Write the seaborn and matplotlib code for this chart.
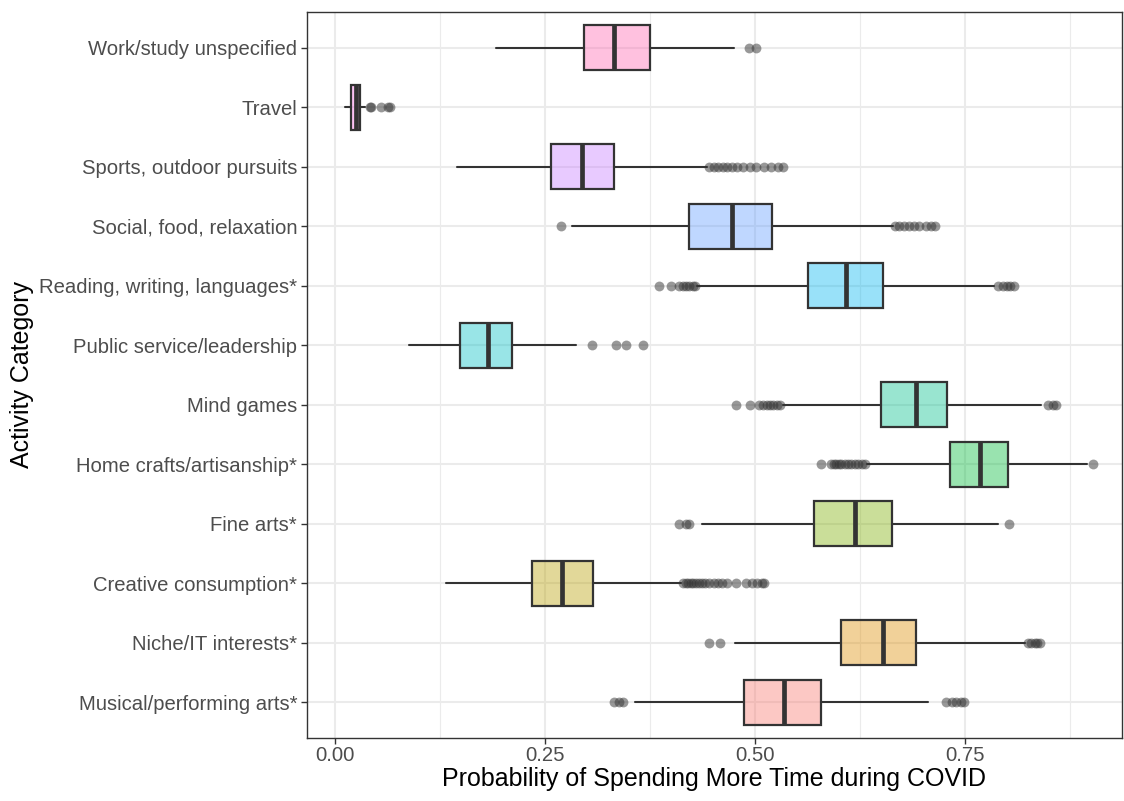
import numpy as np
import pandas as pd
import matplotlib
matplotlib.use("Agg")
import matplotlib.pyplot as plt
from matplotlib.colors import to_rgba
import seaborn as sns

# categories in factor order (first one sits at the bottom)
categories = ["Musical/performing arts*", "Niche/IT interests*", "Creative consumption*",
              "Fine arts*", "Home crafts/artisanship*", "Mind games",
              "Public service/leadership", "Reading, writing, languages*",
              "Social, food, relaxation", "Sports, outdoor pursuits", "Travel",
              "Work/study unspecified"]

# ggplot default hue palette for 12 levels
colors = ["#F8766D", "#DE8C00", "#B79F00", "#7CAE00", "#00BA38", "#00C08B",
          "#00BFC4", "#00B4F0", "#619CFF", "#C77CFF", "#F564E3", "#FF64B0"]

whisk_lo = [0.357, 0.476, 0.133, 0.437, 0.633, 0.533, 0.089, 0.431, 0.282, 0.145, 0.012, 0.192]
q1 = [0.487, 0.603, 0.235, 0.570, 0.732, 0.650, 0.149, 0.563, 0.422, 0.257, 0.020, 0.297]
med = [0.535, 0.653, 0.271, 0.619, 0.768, 0.692, 0.182, 0.609, 0.473, 0.294, 0.025, 0.333]
q3 = [0.579, 0.692, 0.307, 0.663, 0.801, 0.729, 0.211, 0.652, 0.520, 0.333, 0.030, 0.375]
whisk_hi = [0.706, 0.822, 0.412, 0.790, 0.895, 0.841, 0.287, 0.785, 0.664, 0.443, 0.036, 0.475]

outliers = [
    [0.332, 0.338, 0.343, 0.728, 0.735, 0.740, 0.745, 0.749],
    [0.446, 0.459, 0.825, 0.829, 0.833, 0.836, 0.840],
    [0.415, 0.418, 0.421, 0.424, 0.427, 0.430, 0.433, 0.437, 0.441, 0.446, 0.451, 0.456,
     0.461, 0.467, 0.478, 0.489, 0.497, 0.503, 0.508, 0.511],
    [0.410, 0.418, 0.422, 0.803],
    [0.579, 0.591, 0.594, 0.597, 0.600, 0.603, 0.607, 0.611, 0.615, 0.619, 0.623, 0.627,
     0.631, 0.902],
    [0.478, 0.494, 0.505, 0.510, 0.514, 0.518, 0.522, 0.526, 0.530, 0.849, 0.855, 0.859],
    [0.306, 0.335, 0.347, 0.367],
    [0.386, 0.400, 0.410, 0.414, 0.418, 0.422, 0.426, 0.429, 0.789, 0.795, 0.800, 0.804, 0.809],
    [0.269, 0.667, 0.672, 0.677, 0.683, 0.689, 0.696, 0.704, 0.710, 0.714],
    [0.446, 0.451, 0.456, 0.462, 0.467, 0.473, 0.479, 0.486, 0.494, 0.502, 0.511, 0.519,
     0.528, 0.533],
    [0.042, 0.043, 0.055, 0.0635, 0.066],
    [0.493, 0.501],
]

sns.set_theme(style="whitegrid")
plt.rcParams['font.family'] = ['Liberation Sans', 'DejaVu Sans']

fig, ax = plt.subplots(figsize=(11.24, 8.01), dpi=100)
fig.subplots_adjust(left=0.2731, right=0.9982, top=0.985, bottom=0.0787)

positions = np.arange(len(categories))
stats = []
for i, c in enumerate(categories):
    stats.append(dict(label=c, whislo=whisk_lo[i], q1=q1[i], med=med[i],
                      q3=q3[i], whishi=whisk_hi[i], fliers=[]))

edge = "#333333"
parts = ax.bxp(stats, positions=positions, widths=0.75, orientation='horizontal',
               patch_artist=True, showfliers=False, showcaps=False,
               boxprops=dict(edgecolor=edge, linewidth=1.6),
               whiskerprops=dict(color=edge, linewidth=1.5),
               medianprops=dict(color=edge, linewidth=3.4, solid_capstyle='butt'),
               manage_ticks=False)
for patch, col in zip(parts['boxes'], colors):
    patch.set_facecolor(to_rgba(col, 0.4))
    patch.set_zorder(3)
for ln in parts['medians'] + parts['whiskers']:
    ln.set_zorder(3)

flier_df = pd.DataFrame({
    "value": [v for vals in outliers for v in vals],
    "pos": [p for p, vals in zip(positions, outliers) for _ in vals],
})
sns.scatterplot(data=flier_df, x="value", y="pos", color="#333333", alpha=0.5,
                s=50, linewidth=0, ax=ax, zorder=2)

ax.set_xlim(-0.033, 0.937)
ax.set_ylim(-0.6, len(categories) - 0.4)
ax.set_xticks([0, 0.25, 0.5, 0.75])
ax.set_xticklabels(["0.00", "0.25", "0.50", "0.75"])
ax.set_xticks([0.125, 0.375, 0.625, 0.875], minor=True)
ax.set_yticks(positions)
ax.set_yticklabels(categories)

ax.grid(which='major', color='#EBEBEB', linewidth=1.5)
ax.grid(which='minor', axis='x', color='#EBEBEB', linewidth=0.8)
ax.set_axisbelow(True)
for s in ax.spines.values():
    s.set_color("#333333")
    s.set_linewidth(1.0)
    s.set_visible(True)

ax.tick_params(axis='both', which='major', length=4, width=1.0, color="#333333",
               labelsize=14.6, labelcolor="#4D4D4D", pad=3, direction='out',
               left=True, bottom=True)
ax.tick_params(axis='x', which='major', pad=1.5)
ax.tick_params(axis='x', which='minor', length=0)

ax.set_xlabel("Probability of Spending More Time during COVID", fontsize=18,
              color="black", labelpad=2)
ax.set_ylabel("Activity Category", fontsize=18, color="black", labelpad=4)

plt.savefig("out.png", dpi=100)
